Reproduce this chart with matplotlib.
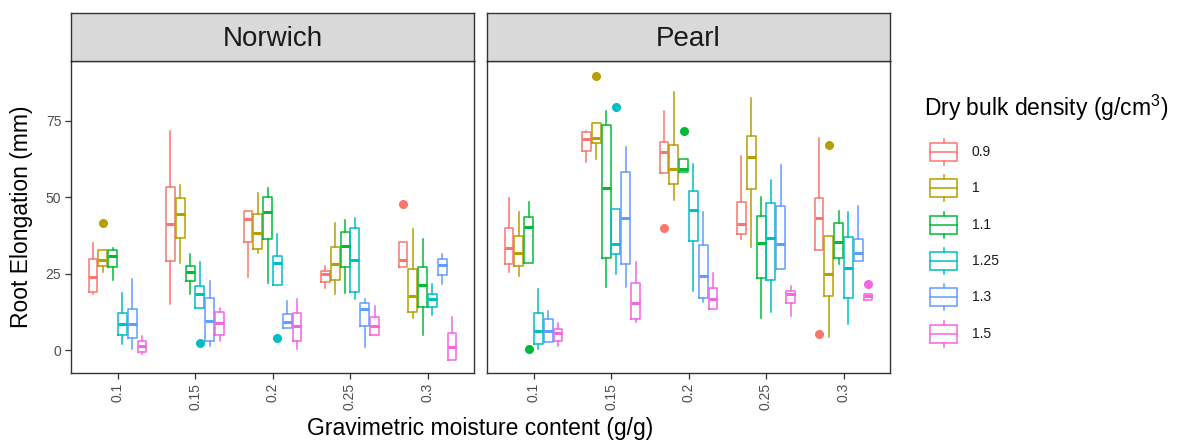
import numpy as np
import matplotlib
matplotlib.use("Agg")
import matplotlib.pyplot as plt
from matplotlib.patches import Rectangle

plt.rcParams['font.family'] = ['Liberation Sans', 'DejaVu Sans']
plt.rcParams['mathtext.fontset'] = 'custom'
plt.rcParams['mathtext.rm'] = 'Liberation Sans'

sites = ['Norwich', 'Pearl']
moisture = ['0.1', '0.15', '0.2', '0.25', '0.3']
density = ['0.9', '1', '1.1', '1.25', '1.3', '1.5']
colors = ['#F8766D', '#B79F00', '#00BA38', '#00BFC4', '#619CFF', '#F564E3']

# rows = density, cols = moisture
norwich_whislo = [[18.2, 15.1, 23.8, 20.2, 27.1],
                  [25.4, 28.4, 31.7, 18.2, 10.6],
                  [22.9, 18.3, 21.8, 18.6, 4.9],
                  [1.9, 13.8, 21.3, 16.6, 11.5],
                  [0.3, 1.3, 7.1, 0.9, 21.5],
                  [-1.3, 2.9, 0.5, 4.9, -3.1]]
norwich_q1 = [[18.9, 29.1, 35.3, 22.4, 27.1],
              [27.5, 36.8, 33.2, 22.9, 12.3],
              [27.1, 22.6, 36.2, 27.1, 14.2],
              [4.9, 13.8, 21.3, 18.9, 14.2],
              [4.0, 2.9, 7.1, 8.0, 24.6],
              [-0.7, 4.9, 2.9, 4.9, -3.1]]
norwich_med = [[23.8, 41.3, 43.0, 24.8, 29.5],
               [29.5, 44.4, 38.3, 28.1, 17.7],
               [30.9, 25.4, 45.3, 34.1, 21.3],
               [8.4, 18.2, 28.6, 29.5, 16.8],
               [8.4, 9.6, 9.1, 13.4, 27.9],
               [1.4, 8.7, 8.0, 8.0, 0.9]]
norwich_q3 = [[29.7, 53.3, 45.6, 26.0, 35.5],
              [32.8, 49.8, 44.5, 33.8, 26.6],
              [32.8, 27.6, 50.2, 38.8, 27.1],
              [12.2, 21.0, 30.8, 39.8, 18.3],
              [13.6, 16.9, 11.7, 15.3, 29.7],
              [2.9, 12.3, 12.2, 10.7, 5.7]]
norwich_whishi = [[34.9, 71.8, 45.6, 27.6, 35.5],
                  [32.8, 53.9, 51.3, 41.7, 39.5],
                  [33.3, 31.3, 52.9, 42.6, 36.4],
                  [18.6, 28.8, 38.1, 43.1, 21.6],
                  [23.1, 22.7, 16.0, 16.6, 31.3],
                  [4.7, 13.9, 16.6, 14.5, 10.8]]

pearl_whislo = [[25.4, 61.4, 57.9, 36.2, 32.8],
                [24.3, 62.4, 49.1, 33.8, 4.4],
                [28.6, 20.7, 58.4, 10.6, 28.2],
                [0.3, 24.9, 19.3, 12.6, 8.5],
                [2.5, 20.7, 15.6, 26.5, 29.1],
                [1.3, 9.3, 13.3, 11.1, 16.4]]
pearl_q1 = [[28.2, 65.3, 57.9, 37.9, 32.8],
            [27.6, 67.7, 54.3, 52.7, 17.8],
            [28.6, 30.2, 58.4, 23.5, 30.2],
            [2.0, 31.3, 35.7, 22.9, 16.9],
            [2.5, 28.2, 17.2, 26.5, 29.1],
            [2.9, 10.2, 13.3, 15.3, 16.4]]
pearl_med = [[33.5, 69.0, 64.7, 41.3, 43.3],
             [31.7, 69.4, 59.3, 63.3, 24.9],
             [40.2, 52.9, 59.2, 35.2, 35.5],
             [6.3, 34.6, 45.9, 36.6, 27.0],
             [6.3, 43.3, 24.3, 34.6, 31.7],
             [5.5, 15.5, 16.7, 18.2, 17.8]]
pearl_q3 = [[40.0, 71.3, 68.2, 48.6, 49.8],
            [37.4, 74.2, 67.1, 70.1, 37.4],
            [43.7, 73.7, 62.6, 44.0, 41.5],
            [12.2, 46.1, 52.2, 48.0, 36.9],
            [10.3, 58.4, 34.4, 47.2, 36.4],
            [6.8, 22.1, 20.4, 19.4, 18.3]]
pearl_whishi = [[49.9, 71.8, 78.1, 63.5, 69.3],
                [45.2, 74.2, 84.6, 82.4, 37.4],
                [48.3, 78.4, 62.6, 50.2, 45.6],
                [20.1, 46.1, 60.9, 55.5, 45.1],
                [12.9, 66.6, 45.1, 60.5, 47.3],
                [8.7, 28.8, 25.1, 21.1, 18.3]]

# outliers: (site, moisture index, density index, value)
outliers = [('Norwich', 0, 1, 41.5), ('Norwich', 1, 3, 2.4),
            ('Norwich', 2, 3, 4.0), ('Norwich', 4, 0, 47.7),
            ('Pearl', 0, 2, 0.5), ('Pearl', 1, 1, 89.7),
            ('Pearl', 1, 3, 79.5), ('Pearl', 2, 0, 40.1),
            ('Pearl', 2, 2, 71.8), ('Pearl', 4, 0, 5.1),
            ('Pearl', 4, 1, 67.1), ('Pearl', 4, 5, 21.5)]

summary = {
    'Norwich': (norwich_whislo, norwich_q1, norwich_med, norwich_q3, norwich_whishi),
    'Pearl': (pearl_whislo, pearl_q1, pearl_med, pearl_q3, pearl_whishi),
}

W, H = 1188, 442
fig = plt.figure(figsize=(W / 100, H / 100), dpi=100)
dark = '#333333'

panel_left = [71, 487]
pw = 403
ptop, pbot = 61, 373
strip_top = 13

slot = 0.76 / len(density)
bw = slot * 0.9
xpos = np.arange(1, len(moisture) + 1)

axes = []
for k, site in enumerate(sites):
    ax = fig.add_axes([panel_left[k] / W, (H - pbot) / H, pw / W, (pbot - ptop) / H])
    lo, q1, md, q3, hi = summary[site]
    for i, c in enumerate(colors):
        stats = []
        for j in range(len(moisture)):
            fl = [v for s, mj, di, v in outliers if s == site and mj == j and di == i]
            stats.append(dict(whislo=lo[i][j], q1=q1[i][j], med=md[i][j],
                              q3=q3[i][j], whishi=hi[i][j], fliers=fl))
        pos = xpos + (i - (len(density) - 1) / 2) * slot
        ax.bxp(stats, positions=pos, widths=bw, showcaps=False, showfliers=True,
               boxprops=dict(color=c, lw=1.1),
               whiskerprops=dict(color=c, lw=1.1),
               medianprops=dict(color=c, lw=2.2, solid_capstyle='butt'),
               flierprops=dict(marker='o', markerfacecolor=c, markeredgecolor=c,
                               markersize=5.5, linestyle='none'))
    ax.set_xlim(0.4, 5.6)
    ax.set_ylim(-7.5, 94.6)
    ax.set_xticks(xpos)
    ax.set_xticklabels(moisture, rotation=90)
    ax.set_yticks([0, 25, 50, 75])
    ax.tick_params(direction='out', length=4, width=0.9, color=dark,
                   labelcolor='#4D4D4D', labelsize=10, pad=3)
    if k > 0:
        ax.tick_params(axis='y', left=False, labelleft=False)
    for sp in ax.spines.values():
        sp.set_color(dark)
        sp.set_linewidth(1.0)

    sax = fig.add_axes([panel_left[k] / W, (H - ptop) / H, pw / W, (ptop - strip_top) / H])
    sax.set_facecolor('#D9D9D9')
    sax.set_xticks([])
    sax.set_yticks([])
    for sp in sax.spines.values():
        sp.set_color(dark)
        sp.set_linewidth(1.0)
    sax.text(0.5, 0.45, site, ha='center', va='center', fontsize=20,
             color='#1A1A1A', transform=sax.transAxes)
    axes.append(ax)

fig.text(22 / W, 1 - 217 / H, 'Root Elongation (mm)', rotation=90,
         ha='center', va='center', fontsize=16.5)
fig.text(480 / W, 1 - 428 / H, 'Gravimetric moisture content (g/g)',
         ha='center', va='center', fontsize=16.5)

# legend drawn in pixel coordinates
lax = fig.add_axes([0, 0, 1, 1], facecolor='none')
lax.set_xlim(0, W)
lax.set_ylim(H, 0)
lax.axis('off')
lax.text(924, 108, 'Dry bulk density (g/cm$^3$)', ha='left', va='center',
         fontsize=16.5)
row0, dy = 152, 36.3
for i, (lab, c) in enumerate(zip(density, colors)):
    yc = row0 + i * dy
    lax.add_patch(Rectangle((930, yc - 9), 27, 18, fill=False, ec=c, lw=1.1))
    lax.plot([930, 957], [yc, yc], color=c, lw=1.1)
    lax.plot([943.5, 943.5], [yc - 13, yc - 9], color=c, lw=1.1)
    lax.plot([943.5, 943.5], [yc + 9, yc + 13], color=c, lw=1.1)
    lax.text(972, yc, lab, ha='left', va='center', fontsize=10, color='#1A1A1A')

fig.savefig('out.png', dpi=100)
